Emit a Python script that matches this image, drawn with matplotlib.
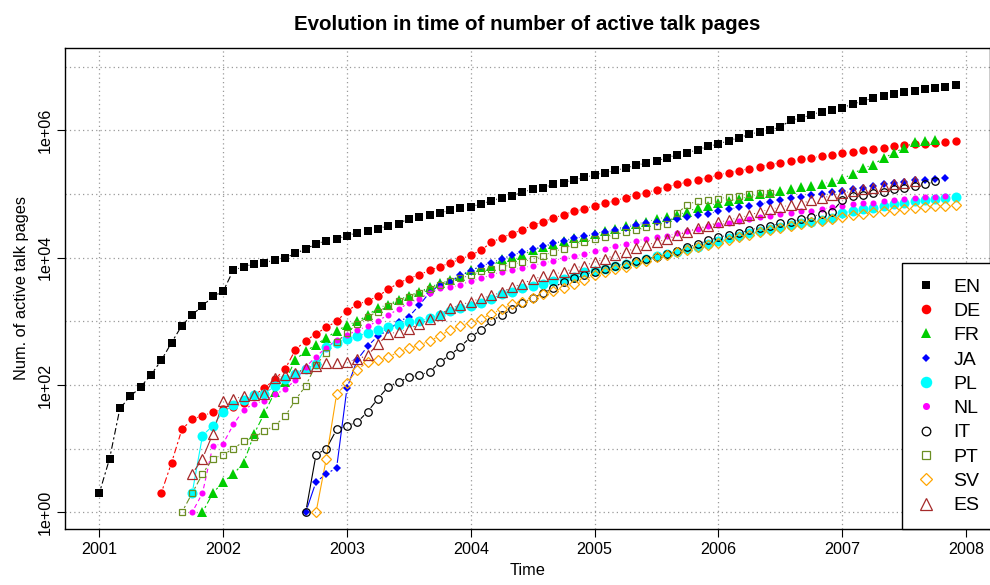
import numpy as np
import matplotlib
matplotlib.use("Agg")
import matplotlib.pyplot as plt
from matplotlib.lines import Line2D
from matplotlib.ticker import NullLocator

plt.rcParams['font.family'] = ['Liberation Sans', 'DejaVu Sans']

# ---- data: monthly values, first month given as months after Jan 2001 ----
languages = ["EN", "DE", "FR", "JA", "PL", "NL", "IT", "PT", "SV", "ES"]

en_start = 0
en_values = [2, 7, 43, 66, 93, 144, 243, 462, 857, 1265,
             1742, 2455, 2950, 6430, 7130, 8090, 8280, 9270, 9930, 11670,
             13680, 16440, 18450, 19730, 22130, 24830, 26600, 28450, 31920, 34200,
             41110, 43950, 47100, 50470, 55340, 59290, 62700, 70300, 78000, 87500,
             93600, 107400, 117800, 126200, 141300, 151400, 166000, 182000, 199500, 216000,
             234000, 256000, 281000, 308000, 330000, 370000, 415000, 444000, 498000, 558000,
             612000, 687000, 769000, 863000, 946000, 1014000, 1135000, 1429000, 1564000, 1754000,
             1968000, 2108000, 2259000, 2588000, 2838000, 3258000, 3491000, 3733000, 4000000, 4188000,
             4487000, 4699000, 4808000, 5093000]

de_start = 6
de_values = [2, 6, 20, 29, 33, 37, 42, 45, 52, 69,
             89, 123, 177, 357, 497, 633, 806, 1000, 1450, 1840,
             2100, 2470, 3180, 3990, 4700, 5400, 6300, 7200, 8250, 9500,
             10900, 13100, 17400, 20600, 23800, 27500, 32200, 36700, 41900, 47300,
             53600, 58600, 65700, 72000, 78500, 87800, 95500, 105000, 117000, 130000,
             142000, 155000, 166000, 181000, 200000, 216000, 232000, 251000, 269000, 289000,
             311000, 333000, 351000, 367000, 396000, 410000, 434000, 462000, 491000, 511000,
             535000, 562000, 582000, 605000, 619000, 639000, 654000, 674000]

fr_start = 10
fr_values = [1, 2, 3, 4, 6, 17, 36, 77, 112, 250,
             338, 430, 550, 705, 870, 1000, 1240, 1630, 1820, 2190,
             2520, 2920, 3400, 3970, 4460, 5100, 6320, 7250, 7300, 9500,
             10300, 11000, 13100, 14900, 16500, 18500, 20400, 21300, 23300, 26300,
             28200, 31000, 33800, 36700, 40000, 43900, 46800, 52700, 61000, 65300,
             72800, 77600, 83400, 92000, 99000, 105000, 112000, 120000, 127000, 135000,
             144000, 155000, 174000, 206000, 253000, 289000, 367000, 441000, 535000, 648000,
             690000, 706000]

ja_start = 20
ja_values = [1, 3, 4, 5, 89, 250, 405, 590, 720, 990,
             1180, 1780, 2820, 3720, 4170, 5250, 6240, 7410, 8300, 9550,
             11000, 12200, 13500, 15100, 16800, 18200, 20000, 21600, 23400, 25100,
             27200, 29500, 32400, 35000, 36700, 38900, 40700, 43600, 46200, 49000,
             53700, 57500, 61700, 65300, 69200, 75000, 79400, 85100, 89100, 95500,
             100000, 107000, 112000, 120000, 126000, 133000, 141000, 148000, 155000, 164000,
             166000, 172000, 176000]

pl_start = 9
pl_values = [2, 16, 23, 38, 48, 58, 70, 72, 97, 125,
             150, 180, 211, 400, 460, 530, 582, 665, 735, 813,
             890, 975, 1020, 1120, 1260, 1470, 1600, 1720, 1960, 2250,
             2690, 2920, 3310, 3640, 3850, 4280, 4620, 5020, 5890, 6170,
             6700, 7330, 7860, 8530, 9420, 10500, 11500, 12400, 13600, 14800,
             16400, 18200, 20000, 21900, 24100, 26000, 27900, 30600, 32500, 34700,
             36700, 38900, 41700, 49500, 55000, 57500, 61000, 64600, 70800, 73300,
             77600, 81300, 84100, 86100, 89100]

nl_start = 9
nl_values = [1, 2, 11, 12, 24, 41, 51, 56, 71, 85,
             120, 190, 280, 385, 510, 600, 730, 830, 1020, 1260,
             1550, 1950, 2260, 2750, 3300, 3400, 3760, 4280, 4730, 5380,
             5960, 6460, 6930, 7500, 8230, 8930, 9880, 10600, 11500, 12600,
             13700, 15100, 16600, 18200, 19800, 20900, 22100, 24000, 26000, 28200,
             30900, 32400, 35500, 38000, 40700, 43000, 45700, 48300, 50700, 53700,
             55000, 57500, 61700, 64600, 69200, 71600, 73300, 77600, 79400, 83200,
             85100, 89100, 91200, 93300]

it_start = 20
it_values = [1, 8, 10, 20, 23, 26, 38, 61, 94, 112,
             132, 144, 160, 229, 296, 399, 569, 733, 1020, 1250,
             1550, 1950, 2290, 2780, 3350, 4220, 4740, 5370, 5980, 6600,
             7400, 8040, 8900, 9500, 10400, 11500, 12600, 14500, 16400, 18600,
             20900, 22600, 24500, 27200, 29500, 31600, 34700, 36700, 40700, 44200,
             47900, 52500, 80400, 93300, 97700, 105000, 108000, 120000, 126000, 133000,
             141000, 158000]

pt_start = 8
pt_values = [1, 2, 4, 7, 8, 10, 13, 15, 19, 23,
             32, 58, 97, 209, 316, 470, 660, 920, 1180, 1420,
             1740, 2090, 2400, 2820, 3240, 3720, 4280, 4730, 5360, 6100,
             6650, 7050, 7860, 8530, 9550, 10800, 12400, 13800, 16200, 17700,
             19500, 21100, 22900, 25300, 26900, 29800, 31600, 33900, 50000, 67600,
             78500, 80400, 83300, 90600, 94300, 100000, 102000, 103000]

sv_start = 21
sv_values = [1, 7, 72, 107, 174, 230, 245, 272, 333, 376,
             427, 490, 595, 733, 850, 955, 1085, 1320, 1550, 1840,
             2000, 2290, 2660, 2950, 3380, 3800, 4460, 5260, 5960, 6600,
             7100, 8130, 8900, 10100, 11100, 12200, 13200, 14500, 15800, 17200,
             19100, 20900, 22900, 25100, 27200, 28800, 31200, 33900, 35900, 38000,
             40700, 43600, 46800, 48400, 51300, 53700, 56200, 57500, 60300, 62400,
             64600, 65300, 67600]

es_start = 9
es_values = [4, 7, 17, 56, 60, 67, 69, 71, 130, 142,
             152, 183, 199, 219, 224, 232, 253, 295, 436, 630,
             690, 750, 910, 1070, 1260, 1600, 1800, 2040, 2290, 2550,
             2850, 3430, 3890, 4570, 5130, 5500, 5960, 6760, 7500, 8510,
             9550, 11000, 12400, 14100, 15700, 17600, 19500, 22400, 25700, 28800,
             31600, 35900, 38900, 42700, 46200, 52500, 57500, 61700, 67600, 70800,
             79400, 85100, 95500, 102000, 112000, 119000, 126000, 133000, 141000, 148000,
             158000]

year_ticks = [2001, 2002, 2003, 2004, 2005, 2006, 2007, 2008]
y_ticks = [1, 1e2, 1e4, 1e6]
y_tick_labels = ["1e+00", "1e+02", "1e+04", "1e+06"]
grid_decades = [1, 1e1, 1e2, 1e3, 1e4, 1e5, 1e6, 1e7]

series = [
    (en_start, en_values),
    (de_start, de_values),
    (fr_start, fr_values),
    (ja_start, ja_values),
    (pl_start, pl_values),
    (nl_start, nl_values),
    (it_start, it_values),
    (pt_start, pt_values),
    (sv_start, sv_values),
    (es_start, es_values),
]

# ---- styles ----
dd = (0, (2, 2.5, 6, 2.5))
styles = {
    "EN": dict(color="black", marker="s", ms=5.5, mfc="black", mew=0.0, ls=dd),
    "DE": dict(color="red", marker="o", ms=6.0, mfc="red", mew=0.0, ls=dd),
    "FR": dict(color="#00CD00", marker="^", ms=6.5, mfc="#00CD00", mew=0.0, ls=dd),
    "JA": dict(color="blue", marker="D", ms=3.8, mfc="blue", mew=0.0, ls="-"),
    "PL": dict(color="cyan", marker="o", ms=7.2, mfc="cyan", mew=0.0, ls="-"),
    "NL": dict(color="magenta", marker="o", ms=4.4, mfc="magenta", mew=0.0, ls=(0, (4, 3))),
    "IT": dict(color="black", marker="o", ms=5.4, mfc="none", mew=0.9, ls="-"),
    "PT": dict(color="#6B8E23", marker="s", ms=5.0, mfc="none", mew=0.9, ls=dd),
    "SV": dict(color="orange", marker="D", ms=5.2, mfc="none", mew=0.9, ls="-"),
    "ES": dict(color="#A52A2A", marker="^", ms=7.0, mfc="none", mew=0.9, ls="-"),
}

W, H = 990, 585
fig = plt.figure(figsize=(W / 100, H / 100), dpi=100)
left, right, top, bottom = 65, 990, 48, 529
ax = fig.add_axes([left / W, 1 - bottom / H, (right - left) / W, (bottom - top) / H])

ax.set_yscale("log")
ax.set_xlim(2000.723, 2008.193)
ax.set_ylim(10 ** -0.262, 10 ** 7.293)

# grid
for d in grid_decades:
    ax.axhline(d, color="#9a9a9a", lw=0.9, ls=(0, (1, 2.5)), zorder=0)
for yr in year_ticks:
    ax.axvline(yr, color="#9a9a9a", lw=0.9, ls=(0, (1, 2.5)), zorder=0)


def draw_b(ax, x, y, color, ls, gap=5.0):
    """R type='b': line segments with a gap around each point."""
    pts = ax.transData.transform(np.column_stack([x, y]))
    inv = ax.transData.inverted()
    for i in range(len(pts) - 1):
        p0, p1 = pts[i], pts[i + 1]
        d = p1 - p0
        L = np.hypot(d[0], d[1])
        if L <= 2 * gap + 0.5:
            continue
        u = d / L
        a = inv.transform(p0 + u * gap)
        b = inv.transform(p1 - u * gap)
        ax.plot([a[0], b[0]], [a[1], b[1]], color=color, ls=ls, lw=0.8,
                solid_capstyle="butt", dash_capstyle="butt", zorder=2)


handles = []
for z, (lang, (start, vals)) in enumerate(zip(languages, series)):
    st = styles[lang]
    months = start + np.arange(len(vals))
    x = 2001 + months / 12.0
    y = np.array(vals, dtype=float)
    draw_b(ax, x, y, st["color"], st["ls"])
    ax.plot(x, y, ls="none", marker=st["marker"], ms=st["ms"], mfc=st["mfc"],
            mec=st["color"], mew=st["mew"], zorder=3 + z * 0.01)
    handles.append(Line2D([], [], ls="none", marker=st["marker"], ms=st["ms"] * 1.15,
                          mfc=st["mfc"], mec=st["color"], mew=st["mew"], label=lang))

ax.set_xticks(year_ticks)
ax.set_xticklabels([str(y) for y in year_ticks])
ax.set_yticks(y_ticks)
ax.set_yticklabels(y_tick_labels, rotation=90, va="center")
ax.yaxis.set_minor_locator(NullLocator())
ax.tick_params(axis="both", direction="out", length=6, width=0.8, labelsize=11.6, colors="black")
ax.tick_params(axis="x", pad=3)
ax.tick_params(axis="y", pad=3)
for s in ax.spines.values():
    s.set_linewidth(1.0)
    s.set_color("black")

ax.set_xlabel("Time", fontsize=11.8, labelpad=5)
ax.set_ylabel("Num. of active talk pages", fontsize=11.8, labelpad=6)
ax.set_title("Evolution in time of number of active talk pages",
             fontsize=14.8, fontweight="bold", pad=13)

leg = ax.legend(handles=handles, loc="lower right", bbox_to_anchor=(1.0 + 5 / 925, 0.0),
                borderaxespad=0.0, fontsize=14, frameon=True, fancybox=False,
                edgecolor="black", framealpha=1.0, handlelength=1.0,
                handletextpad=0.9, labelspacing=0.345, borderpad=0.75)
leg.get_frame().set_linewidth(1.0)
leg.set_zorder(10)

fig.savefig("out.png", dpi=100)
